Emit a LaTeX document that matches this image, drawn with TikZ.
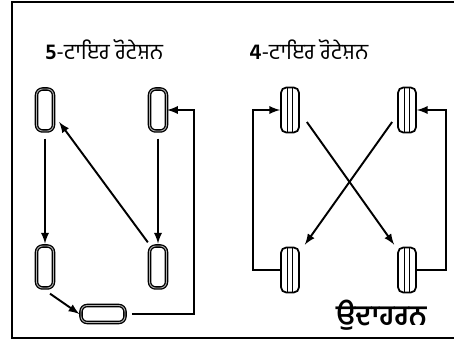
\documentclass[tikz,border=0pt]{standalone}
\usepackage{fontspec}
\setmainfont[Script=Gurmukhi]{Hind Jalandhar}
\usetikzlibrary{calc, positioning}

\begin{document}
\begin{tikzpicture}[>=latex, x=0.02cm, y=-0.02cm,
    tyre/.style={draw, line width=0.75pt, double=gray!60, double distance=0.5pt,
        rounded corners=3.5pt, minimum width=0.34cm, minimum height=0.84cm, inner sep=0pt},
    spare/.style={tyre, minimum width=0.88cm, minimum height=0.34cm},
    tread/.style={draw, line width=1pt, rounded corners=3pt, minimum width=0.36cm,
        minimum height=0.9cm, inner sep=0pt,
        path picture={
            \draw[line width=0.6pt]
                ($(path picture bounding box.north west)+(3.6pt,0)$) --
                ($(path picture bounding box.south west)+(3.6pt,0)$)
                ($(path picture bounding box.north east)+(-3.6pt,0)$) --
                ($(path picture bounding box.south east)+(-3.6pt,0)$);
        }},
    arr/.style={->, line width=1.1pt},
    title/.style={anchor=west, font=\fontsize{12.5}{14}\selectfont, inner sep=0pt}]
    \useasboundingbox (0,0) rectangle (454,344);
    % 1. Khung
    \draw[line width=1.6pt] (454,2) -- (12,2) -- (12,338) -- (454,338);

    % 2. 5-tyre rotation
    \node[title] (h5) at (45,50) {\textbf{5}-ਟਾਇਰ ਰੋਟੇਸ਼ਨ};
    \node[tyre] (t1) at (45,110) {};
    \node[tyre] (t2) at (158,110) {};
    \node[tyre] (t3) at (45,267) {};
    \node[tyre] (t4) at (158,267) {};
    \node[spare] (sp) at (103,314) {};

    \draw[arr, shorten <=4pt, shorten >=1pt] (t1.south) -- (t3.north);
    \draw[arr, shorten <=4pt, shorten >=1pt] (t2.south) -- (t4.north);
    \draw[arr] ($(t4.north west)+(-1,-3)$) -- ($(t1.east)+(5,12)$);
    \draw[arr] ($(t3.south)+(5,5)$) -- ($(sp.west)+(-1,0)$);
    \draw[arr, shorten <=3.5pt] (sp.east) -| ($(t2.east)+(27,0)$) -- (t2.east);

    % 3. 4-tyre rotation
    \node[title] (h4) at (249,50) {\textbf{4}-ਟਾਇਰ ਰੋਟੇਸ਼ਨ};
    \node[tread] (b1) at (290,110) {};
    \node[tread] (b2) at (407,110) {};
    \node[tread] (b3) at (290,270) {};
    \node[tread] (b4) at (407,270) {};

    \draw[arr] (b3.west) -- ++(-27,0) |- (b1.west);
    \draw[arr] (b4.east) -- ++(29,0) |- (b2.east);
    \draw[arr] ($(b1.east)+(7,12)$) -- ($(b4.north west)+(-3,-2)$);
    \draw[arr] ($(b2.west)+(-5,12)$) -- ($(b3.north east)+(5,-2)$);

    % 4. Nhan
    \node[anchor=east, font=\fontsize{16}{18}\selectfont\bfseries, inner sep=0pt]
        (ex) at (427,315) {ਉਦਾਹਰਨ};
\end{tikzpicture}
\end{document}
